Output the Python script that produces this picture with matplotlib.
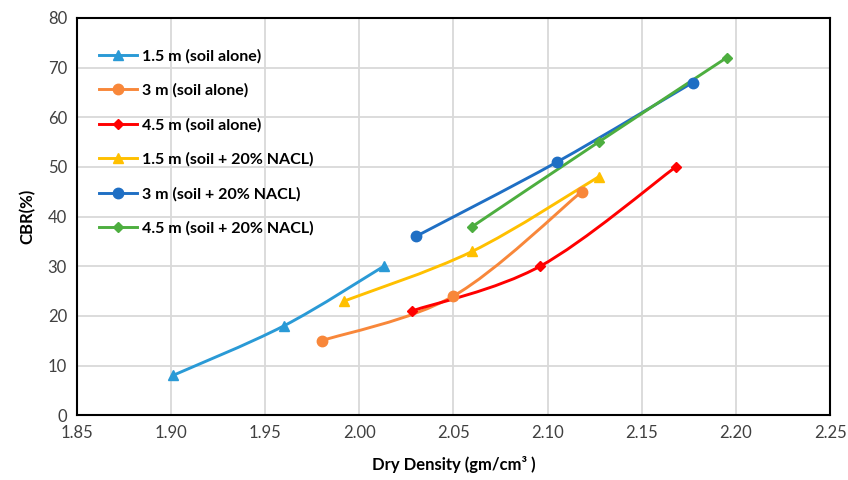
import matplotlib.pyplot as plt
from matplotlib.path import Path
from matplotlib.patches import PathPatch
from matplotlib.lines import Line2D

plt.rcParams["font.family"] = ["Lato", "DejaVu Sans"]

# Data (dry density in gm/cm3, CBR in %)
labels = [
    "1.5 m (soil alone)",
    "3 m (soil alone)",
    "4.5 m (soil alone)",
    "1.5 m (soil + 20% NACL)",
    "3 m (soil + 20% NACL)",
    "4.5 m (soil + 20% NACL)",
]
density_15_alone = [1.901, 1.960, 2.013]
cbr_15_alone = [8, 18, 30]
density_3_alone = [1.980, 2.050, 2.118]
cbr_3_alone = [15, 24, 45]
density_45_alone = [2.028, 2.096, 2.168]
cbr_45_alone = [21, 30, 50]
density_15_nacl = [1.992, 2.060, 2.127]
cbr_15_nacl = [23, 33, 48]
density_3_nacl = [2.030, 2.105, 2.177]
cbr_3_nacl = [36, 51, 67]
density_45_nacl = [2.060, 2.127, 2.195]
cbr_45_nacl = [38, 55, 72]

xs = [density_15_alone, density_3_alone, density_45_alone,
      density_15_nacl, density_3_nacl, density_45_nacl]
ys = [cbr_15_alone, cbr_3_alone, cbr_45_alone,
      cbr_15_nacl, cbr_3_nacl, cbr_45_nacl]
colors = ["#2A9AD6", "#F8873A", "#FF0000", "#FFC000", "#1F6FC4", "#4DAE3F"]
markers = ["^", "o", "D", "^", "o", "D"]
msizes = [7, 7.5, 5, 7, 7.5, 5]


def smooth_path(x, y):
    # Excel-style smoothed line: cubic Bezier segments (Catmull-Rom, 1/6)
    pts = list(zip(x, y))
    verts = [pts[0]]
    codes = [Path.MOVETO]
    n = len(pts)
    for i in range(n - 1):
        p0 = pts[max(i - 1, 0)]
        p1 = pts[i]
        p2 = pts[i + 1]
        p3 = pts[min(i + 2, n - 1)]
        c1 = (p1[0] + (p2[0] - p0[0]) / 6, p1[1] + (p2[1] - p0[1]) / 6)
        c2 = (p2[0] - (p3[0] - p1[0]) / 6, p2[1] - (p3[1] - p1[1]) / 6)
        verts += [c1, c2, p2]
        codes += [Path.CURVE4] * 3
    return Path(verts, codes)


fig = plt.figure(figsize=(8.48, 4.8), dpi=100)
ax = fig.add_axes([0.0905, 0.135, 0.8885, 0.8275])

for x, y, c, m, ms in zip(xs, ys, colors, markers, msizes):
    ax.add_patch(PathPatch(smooth_path(x, y), facecolor="none",
                           edgecolor=c, linewidth=2.1, zorder=3))
    ax.plot(x, y, linestyle="none", marker=m, color=c, markersize=ms, zorder=4)

ax.set_xlim(1.85, 2.25)
ax.set_ylim(0, 80)
ax.set_xticks([1.85 + 0.05 * i for i in range(9)])
ax.set_xticklabels([f"{1.85 + 0.05 * i:.2f}" for i in range(9)])
ax.set_yticks(range(0, 81, 10))
ax.tick_params(length=0, labelsize=12, colors="#404040", pad=7)
ax.grid(True, color="#D9D9D9", linewidth=1.3)
ax.set_axisbelow(True)
for s in ax.spines.values():
    s.set_color("black")
    s.set_linewidth(1.5)

ax.set_xlabel("Dry Density (gm/cm³ )", fontsize=12, fontweight="bold", labelpad=11)
ax.set_ylabel("CBR(%)", fontsize=12, fontweight="bold", labelpad=9)

handles = [Line2D([], [], color=c, marker=m, markersize=ms, linewidth=2.1)
           for c, m, ms in zip(colors, markers, msizes)]
leg = ax.legend(handles, labels, loc="upper left", bbox_to_anchor=(0.029, 0.922),
                frameon=False, prop={"weight": "bold", "size": 11.5},
                borderpad=0, borderaxespad=0,
                labelspacing=1.25, handlelength=2.4, handletextpad=0.3)

fig.savefig("out.png", dpi=100)
